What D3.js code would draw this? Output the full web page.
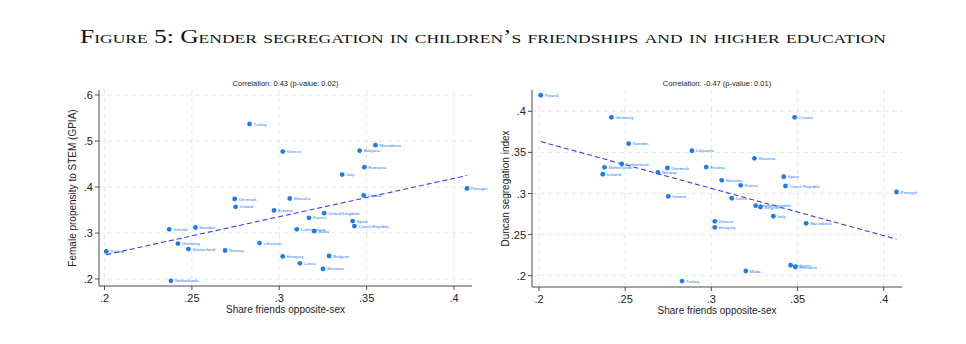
<!DOCTYPE html>
<html>
<head>
<meta charset="utf-8">
<script src="https://cdn.jsdelivr.net/npm/d3@7"></script>
<style>
html,body{margin:0;padding:0;background:#fff;}
svg{display:block;}
</style>
</head>
<body>
<svg id="chart" width="966" height="344"></svg>
<script>
const countries = ["Poland","Iceland","Netherlands","Germany","Switzerland","Sweden","Norway","Denmark","Ireland","Turkey","Lithuania","Estonia","Greece","Hungary","Slovakia","Luxembourg","Latvia","France","Malta","Slovenia","United Kingdom","Belgium","Italy","Spain","Czech Republic","Bulgaria","Croatia","Romania","Macedonia","Portugal"];
const shareOpposite = [0.201,0.237,0.238,0.242,0.248,0.252,0.269,0.2745,0.275,0.283,0.2887,0.297,0.302,0.302,0.306,0.310,0.3118,0.317,0.320,0.325,0.3257,0.3285,0.336,0.342,0.343,0.346,0.3483,0.3487,0.355,0.4074];
const gpia = [0.260,0.308,0.196,0.277,0.265,0.312,0.262,0.374,0.357,0.537,0.278,0.349,0.477,0.249,0.375,0.308,0.234,0.333,0.304,0.222,0.343,0.250,0.427,0.326,0.315,0.479,0.382,0.443,0.491,0.397];
const duncan = [0.4195,0.3234,0.3319,0.3927,0.3359,0.3606,0.3258,0.331,0.2966,0.1935,0.352,0.3322,0.2662,0.2589,0.316,null,0.2942,0.310,0.2057,0.3428,0.2852,0.2836,0.2723,0.3204,0.3091,0.2127,0.3927,0.2106,0.2637,0.3018];
const xTicks = [0.2,0.25,0.3,0.35,0.4];
const gpiaTicks = [0.2,0.3,0.4,0.5,0.6];
const duncanTicks = [0.2,0.25,0.3,0.35,0.4];
const titleText = "Figure 5: Gender segregation in children’s friendships and in higher education";
const fmt = v => String(+v.toFixed(2)).replace(/^0/, "");

const svg = d3.select("#chart");
const dotColor = "#1a7cf5";
const lineColor = "#3b3bf0";
const axisColor = "#4a4a4a";
const gridColor = "#e6e6e6";

svg.append("text")
  .attr("x", 483).attr("y", 43)
  .attr("text-anchor", "middle")
  .attr("font-family", "'Liberation Serif','DejaVu Serif',serif")
  .attr("font-size", 19)
  .style("font-variant", "small-caps")
  .attr("fill", "#111")
  .attr("textLength", 806)
  .attr("lengthAdjust", "spacingAndGlyphs")
  .text(titleText);

function panel(cfg) {
  const g = svg.append("g");
  const x = d3.scaleLinear().domain([0.2, 0.4]).range(cfg.xr);
  const y = d3.scaleLinear().domain(cfg.yd).range(cfg.yr);
  const L = cfg.box[0], R = cfg.box[1], T = cfg.box[2], B = cfg.box[3];

  // grid
  g.selectAll(".vg").data(xTicks).join("line")
    .attr("x1", d => x(d)).attr("x2", d => x(d)).attr("y1", T).attr("y2", B)
    .attr("stroke", gridColor).attr("stroke-width", 1).attr("stroke-dasharray", "5,3");
  g.selectAll(".hg").data(cfg.yTicks).join("line")
    .attr("y1", d => y(d)).attr("y2", d => y(d)).attr("x1", L).attr("x2", R)
    .attr("stroke", gridColor).attr("stroke-width", 1).attr("stroke-dasharray", "5,3");

  // axes lines
  g.append("line").attr("x1", L).attr("x2", L).attr("y1", T).attr("y2", B).attr("stroke", axisColor);
  g.append("line").attr("x1", L).attr("x2", R).attr("y1", B).attr("y2", B).attr("stroke", axisColor);

  // ticks
  g.selectAll(".xt").data(xTicks).join("line")
    .attr("x1", d => x(d)).attr("x2", d => x(d)).attr("y1", B).attr("y2", B + 4).attr("stroke", axisColor);
  g.selectAll(".xl").data(xTicks).join("text")
    .attr("x", d => x(d)).attr("y", B + 16).attr("text-anchor", "middle")
    .attr("font-family", "'Liberation Sans',Arial,sans-serif").attr("font-size", 11).attr("fill", "#222")
    .text(fmt);
  g.selectAll(".yt").data(cfg.yTicks).join("line")
    .attr("y1", d => y(d)).attr("y2", d => y(d)).attr("x1", L).attr("x2", L - 4).attr("stroke", axisColor);
  g.selectAll(".yl").data(cfg.yTicks).join("text")
    .attr("x", L - 6).attr("y", d => y(d) + 4).attr("text-anchor", "end")
    .attr("font-family", "'Liberation Sans',Arial,sans-serif").attr("font-size", 11).attr("fill", "#222")
    .text(fmt);

  // axis titles
  g.append("text").attr("x", (L + R) / 2).attr("y", B + 27).attr("text-anchor", "middle")
    .attr("font-family", "'Liberation Sans',Arial,sans-serif").attr("font-size", 10).attr("fill", "#222")
    .text("Share friends opposite-sex");
  g.append("text").attr("transform", `translate(${cfg.ytx},${(T + B) / 2}) rotate(-90)`)
    .attr("text-anchor", "middle")
    .attr("font-family", "'Liberation Sans',Arial,sans-serif").attr("font-size", 10).attr("fill", "#222")
    .text(cfg.yTitle);
  g.append("text").attr("x", (L + R) / 2).attr("y", 86).attr("text-anchor", "middle")
    .attr("font-family", "'Liberation Sans',Arial,sans-serif").attr("font-size", 7.5).attr("fill", "#222")
    .text(cfg.corr);

  const pts = countries.map((c, i) => ({c, x: shareOpposite[i], y: cfg.vals[i]})).filter(d => d.y != null);

  // regression (OLS)
  const mx = d3.mean(pts, d => d.x), my = d3.mean(pts, d => d.y);
  const b = d3.sum(pts, d => (d.x - mx) * (d.y - my)) / d3.sum(pts, d => (d.x - mx) ** 2);
  const a = my - b * mx;
  const ext = d3.extent(pts, d => d.x);
  g.append("line")
    .attr("x1", x(ext[0])).attr("y1", y(a + b * ext[0]))
    .attr("x2", x(ext[1])).attr("y2", y(a + b * ext[1]))
    .attr("stroke", lineColor).attr("stroke-width", 1.1).attr("stroke-dasharray", "5,3");

  g.selectAll(".pt").data(pts).join("circle")
    .attr("cx", d => x(d.x)).attr("cy", d => y(d.y)).attr("r", 2.4).attr("fill", dotColor);
  g.selectAll(".lb").data(pts).join("text")
    .attr("x", d => x(d.x) + 4).attr("y", d => y(d.y) + 1.6)
    .attr("font-family", "'Liberation Sans',Arial,sans-serif").attr("font-size", 4.4).attr("fill", dotColor)
    .text(d => d.c);
}

panel({
  xr: [104.5, 454], yd: [0.2, 0.6], yr: [279, 95], box: [99, 472, 90, 286],
  yTicks: gpiaTicks, vals: gpia, yTitle: "Female propensity to STEM (GPIA)", ytx: 76,
  corr: "Correlation: 0.43 (p-value: 0.02)"
});
panel({
  xr: [539, 883.7], yd: [0.2, 0.4], yr: [275.7, 111.3], box: [532, 902, 90, 287],
  yTicks: duncanTicks, vals: duncan, yTitle: "Duncan segregation index", ytx: 509,
  corr: "Correlation: -0.47 (p-value: 0.01)"
});
</script>
</body>
</html>
